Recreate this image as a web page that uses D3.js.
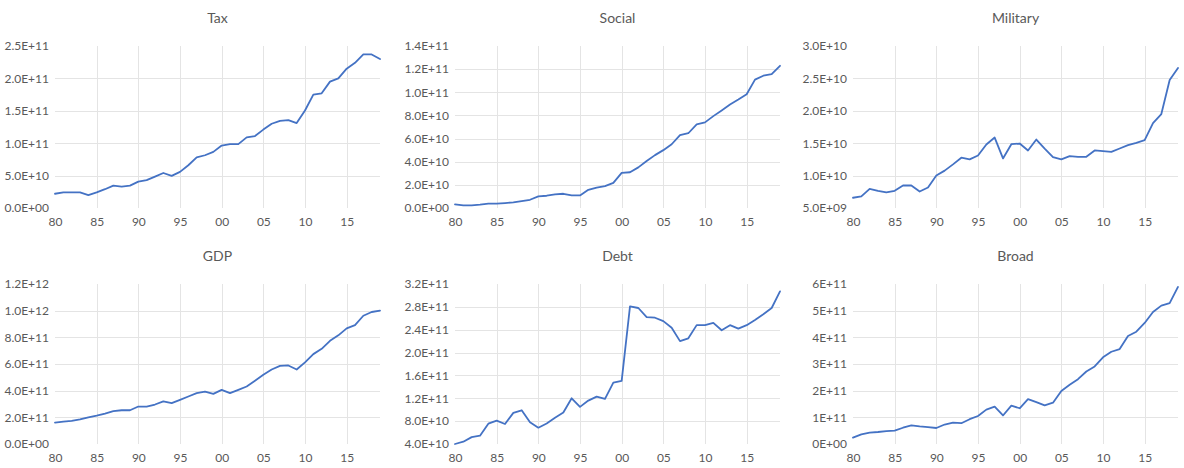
<!DOCTYPE html>
<html>
<head>
<meta charset="utf-8">
<script src="https://cdn.jsdelivr.net/npm/d3@7"></script>
<style>
  html, body { margin: 0; padding: 0; background: #ffffff; }
  svg { display: block; font-family: Lato, "Open Sans", sans-serif; }
</style>
</head>
<body>
<svg id="chart" width="1184" height="468"></svg>
<script>
// Fiscal year, 1980 to 2019
const years = [1980, 1981, 1982, 1983, 1984, 1985, 1986, 1987, 1988, 1989,
               1990, 1991, 1992, 1993, 1994, 1995, 1996, 1997, 1998, 1999,
               2000, 2001, 2002, 2003, 2004, 2005, 2006, 2007, 2008, 2009,
               2010, 2011, 2012, 2013, 2014, 2015, 2016, 2017, 2018, 2019];

const tax = [2.2e10, 2.4e10, 2.4e10, 2.4e10, 2.0e10, 2.4e10, 2.9e10, 3.45e10, 3.3e10, 3.45e10,
             4.07e10, 4.3e10, 4.85e10, 5.4e10, 4.95e10, 5.57e10, 6.6e10, 7.8e10, 8.14e10, 8.66e10,
             9.64e10, 9.85e10, 9.85e10, 1.09e11, 1.11e11, 1.21e11, 1.30e11, 1.345e11, 1.355e11, 1.31e11,
             1.505e11, 1.75e11, 1.77e11, 1.95e11, 2.0e11, 2.15e11, 2.24e11, 2.37e11, 2.37e11, 2.30e11];

const social = [3.1e9, 2.3e9, 2.3e9, 2.9e9, 3.7e9, 3.7e9, 4.3e9, 4.9e9, 6.0e9, 7.1e9,
                1.0e10, 1.06e10, 1.17e10, 1.23e10, 1.09e10, 1.09e10, 1.57e10, 1.77e10, 1.89e10, 2.17e10,
                3.03e10, 3.09e10, 3.51e10, 4.06e10, 4.57e10, 5.0e10, 5.51e10, 6.29e10, 6.46e10, 7.23e10,
                7.4e10, 7.94e10, 8.43e10, 8.94e10, 9.37e10, 9.83e10, 1.109e11, 1.143e11, 1.157e11, 1.229e11];

const military = [6.58e9, 6.79e9, 7.96e9, 7.65e9, 7.4e9, 7.65e9, 8.47e9, 8.47e9, 7.55e9, 8.16e9,
                  1.0e10, 1.077e10, 1.173e10, 1.276e10, 1.25e10, 1.31e10, 1.48e10, 1.587e10, 1.265e10, 1.485e10,
                  1.495e10, 1.388e10, 1.556e10, 1.418e10, 1.286e10, 1.25e10, 1.30e10, 1.29e10, 1.29e10, 1.388e10,
                  1.378e10, 1.367e10, 1.418e10, 1.469e10, 1.505e10, 1.546e10, 1.81e10, 1.95e10, 2.474e10, 2.66e10];

const gdp = [1.6e11, 1.68e11, 1.73e11, 1.85e11, 2.0e11, 2.13e11, 2.28e11, 2.46e11, 2.53e11, 2.53e11,
             2.81e11, 2.81e11, 2.96e11, 3.2e11, 3.06e11, 3.31e11, 3.56e11, 3.81e11, 3.93e11, 3.76e11,
             4.06e11, 3.81e11, 4.06e11, 4.31e11, 4.74e11, 5.19e11, 5.59e11, 5.86e11, 5.89e11, 5.59e11,
             6.12e11, 6.74e11, 7.14e11, 7.74e11, 8.15e11, 8.67e11, 8.92e11, 9.62e11, 9.9e11, 1.0e12];

const debt = [4.0e10, 4.4e10, 5.2e10, 5.45e10, 7.55e10, 8.1e10, 7.5e10, 9.45e10, 9.9e10, 7.8e10,
              6.85e10, 7.6e10, 8.6e10, 9.5e10, 1.2e11, 1.05e11, 1.16e11, 1.23e11, 1.19e11, 1.475e11,
              1.505e11, 2.807e11, 2.78e11, 2.62e11, 2.61e11, 2.55e11, 2.435e11, 2.2e11, 2.25e11, 2.48e11,
              2.48e11, 2.52e11, 2.39e11, 2.48e11, 2.42e11, 2.48e11, 2.57e11, 2.67e11, 2.78e11, 3.07e11];

const broad = [2.4e10, 3.6e10, 4.3e10, 4.5e10, 4.8e10, 5.0e10, 6.1e10, 7.0e10, 6.6e10, 6.3e10,
               6.0e10, 7.3e10, 8.0e10, 7.8e10, 9.3e10, 1.05e11, 1.29e11, 1.40e11, 1.07e11, 1.44e11,
               1.34e11, 1.68e11, 1.57e11, 1.45e11, 1.55e11, 1.99e11, 2.22e11, 2.43e11, 2.72e11, 2.91e11,
               3.25e11, 3.46e11, 3.56e11, 4.05e11, 4.21e11, 4.54e11, 4.95e11, 5.19e11, 5.28e11, 5.89e11];

// Axis ticks
const yearTicks     = [1980, 1985, 1990, 1995, 2000, 2005, 2010, 2015];
const taxTicks      = [0, 5e10, 1e11, 1.5e11, 2e11, 2.5e11];
const socialTicks   = [0, 2e10, 4e10, 6e10, 8e10, 1e11, 1.2e11, 1.4e11];
const militaryTicks = [5e9, 1e10, 1.5e10, 2e10, 2.5e10, 3e10];
const gdpTicks      = [0, 2e11, 4e11, 6e11, 8e11, 1e12, 1.2e12];
const debtTicks     = [4e10, 8e10, 1.2e11, 1.6e11, 2e11, 2.4e11, 2.8e11, 3.2e11];
const broadTicks    = [0, 1e11, 2e11, 3e11, 4e11, 5e11, 6e11];

const panels = [
  { title: "Tax",      values: tax,      ticks: taxTicks,      digits: 1 },
  { title: "Social",   values: social,   ticks: socialTicks,   digits: 1 },
  { title: "Military", values: military, ticks: militaryTicks, digits: 1 },
  { title: "GDP",      values: gdp,      ticks: gdpTicks,      digits: 1 },
  { title: "Debt",     values: debt,     ticks: debtTicks,     digits: 1 },
  { title: "Broad",    values: broad,    ticks: broadTicks,    digits: 0 }
];

// Grid layout: three columns, two rows
const colLeft = [55, 455, 853];
const plotW = 325;
const rowTop = [46, 284];
const rowBottom = [208, 444];

const textColor = "#595959";
const gridColor = "#e4e4e4";
const lineColor = "#4472c4";
const labelFont = "12px";

// Spreadsheet-style scientific notation, e.g. 2.5E+11
function sci(v, digits) {
  if (v === 0) return (0).toFixed(digits) + "E+00";
  let e = Math.floor(Math.log10(Math.abs(v)) + 1e-9);
  let m = v / Math.pow(10, e);
  if (Math.abs(+m.toFixed(digits)) >= 10) { e += 1; m = v / Math.pow(10, e); }
  return m.toFixed(digits) + "E" + (e < 0 ? "-" : "+") + String(Math.abs(e)).padStart(2, "0");
}

const svg = d3.select("#chart");

panels.forEach((p, i) => {
  const col = i % 3, row = Math.floor(i / 3);
  const left = colLeft[col], top = rowTop[row], bottom = rowBottom[row];

  const x = d3.scaleLinear().domain([years[0], years[years.length - 1]]).range([left, left + plotW]);
  const y = d3.scaleLinear().domain([p.ticks[0], p.ticks[p.ticks.length - 1]]).range([bottom, top]);

  const g = svg.append("g");

  // horizontal gridlines at the inner ticks only
  g.append("g").selectAll("line")
    .data(p.ticks.slice(1, -1))
    .join("line")
    .attr("x1", left).attr("x2", left + plotW)
    .attr("y1", d => Math.round(y(d)) + 0.5).attr("y2", d => Math.round(y(d)) + 0.5)
    .attr("stroke", gridColor).attr("stroke-width", 1);

  // vertical gridlines every five years
  g.append("g").selectAll("line")
    .data(yearTicks.slice(1))
    .join("line")
    .attr("x1", d => Math.round(x(d)) + 0.5).attr("x2", d => Math.round(x(d)) + 0.5)
    .attr("y1", top).attr("y2", bottom)
    .attr("stroke", gridColor).attr("stroke-width", 1);

  // y axis labels
  const yAxis = g.append("g")
    .attr("transform", `translate(${left},0)`)
    .call(d3.axisLeft(y).tickValues(p.ticks).tickFormat(d => sci(d, p.digits)).tickSize(0).tickPadding(6));
  yAxis.select(".domain").remove();
  yAxis.selectAll("text").attr("fill", textColor).style("font-size", labelFont).style("font-family", "Lato, 'Open Sans', sans-serif");

  // x axis labels
  const xAxis = g.append("g")
    .attr("transform", `translate(0,${bottom})`)
    .call(d3.axisBottom(x).tickValues(yearTicks).tickFormat(d => String(d % 100).padStart(2, "0")).tickSize(0).tickPadding(9));
  xAxis.select(".domain").remove();
  xAxis.selectAll("text").attr("fill", textColor).style("font-size", labelFont).style("font-family", "Lato, 'Open Sans', sans-serif");

  // series line
  g.append("path")
    .datum(p.values)
    .attr("fill", "none")
    .attr("stroke", lineColor)
    .attr("stroke-width", 1.8)
    .attr("stroke-linejoin", "round")
    .attr("stroke-linecap", "round")
    .attr("d", d3.line().x((d, k) => x(years[k])).y(d => y(d)));

  // panel title
  g.append("text")
    .attr("x", left + plotW / 2)
    .attr("y", top - 28)
    .attr("dy", "0.35em")
    .attr("text-anchor", "middle")
    .attr("fill", textColor)
    .style("font-size", "14px")
    .text(p.title);
});
</script>
</body>
</html>
